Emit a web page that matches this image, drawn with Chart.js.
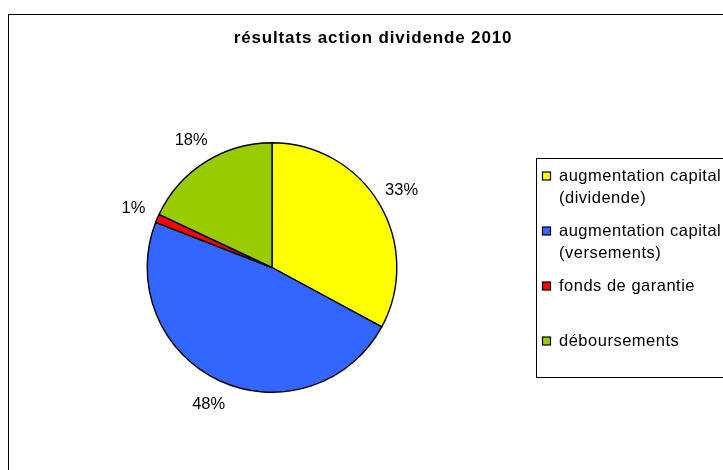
<!DOCTYPE html>
<html>
<head>
<meta charset="utf-8">
<script src="https://cdn.jsdelivr.net/npm/chart.js@4"></script>
<style>
    html, body { margin: 0; padding: 0; background: #fff; }
    #wrap { width: 723px; height: 470px; position: relative; }
</style>
</head>
<body>
<div id="wrap"><canvas id="pie" width="723" height="470"></canvas></div>
<script>
const titleText = 'résultats action dividende 2010';
const categories = [
    ['augmentation capital', '(dividende)'],
    ['augmentation capital', '(versements)'],
    ['fonds de garantie'],
    ['déboursements']
];
const shares = [32.9, 48.0, 1.1, 18.0];
const sliceColors = ['#FFFF00', '#3366FF', '#FF0000', '#99CC00'];

const FONT = '"Liberation Sans", Arial, sans-serif';

// frame, title, legend box
const decorPlugin = {
    id: 'decor',
    beforeDraw(chart) {
        const ctx = chart.ctx;
        ctx.save();
        ctx.fillStyle = '#fff';
        ctx.fillRect(0, 0, chart.width, chart.height);
        ctx.strokeStyle = '#000';
        ctx.lineWidth = 1;
        ctx.strokeRect(8.5, 14.5, 900, 700);

        ctx.fillStyle = '#000';
        ctx.font = 'bold 17px ' + FONT;
        ctx.letterSpacing = '0.85px';
        ctx.textAlign = 'center';
        ctx.textBaseline = 'middle';
        ctx.fillText(titleText, 373, 38);
        ctx.restore();
    },
    afterDraw(chart) {
        const ctx = chart.ctx;
        const labels = chart.data.labels;
        const colors = chart.data.datasets[0].backgroundColor;
        ctx.save();
        ctx.strokeStyle = '#000';
        ctx.lineWidth = 1;
        ctx.strokeRect(536.5, 158.5, 400, 219);

        ctx.font = '16.5px ' + FONT;
        ctx.letterSpacing = '0.5px';
        ctx.textAlign = 'left';
        ctx.textBaseline = 'middle';
        labels.forEach((lines, i) => {
            const y = 176 + i * 55;
            ctx.fillStyle = colors[i];
            ctx.fillRect(542.5, y - 4, 8, 8);
            ctx.lineWidth = 1.2;
            ctx.strokeRect(542.5, y - 4, 8, 8);
            ctx.fillStyle = '#000';
            lines.forEach((ln, j) => ctx.fillText(ln, 559, y + j * 22));
        });
        ctx.restore();
    }
};

// percent labels outside each slice
const pctPlugin = {
    id: 'pct',
    afterDatasetsDraw(chart) {
        const ctx = chart.ctx;
        const meta = chart.getDatasetMeta(0);
        const vals = chart.data.datasets[0].data;
        const total = vals.reduce((a, b) => a + b, 0);
        ctx.save();
        ctx.fillStyle = '#000';
        ctx.font = '16.5px ' + FONT;
        ctx.textAlign = 'center';
        ctx.textBaseline = 'middle';
        meta.data.forEach((arc, i) => {
            const p = arc.getProps(['x', 'y', 'startAngle', 'endAngle', 'outerRadius'], true);
            const mid = (p.startAngle + p.endAngle) / 2;
            const r = p.outerRadius + 26;
            ctx.fillText(Math.round(vals[i] / total * 100) + '%',
                p.x + Math.cos(mid) * r, p.y + Math.sin(mid) * r);
        });
        ctx.restore();
    }
};

new Chart(document.getElementById('pie'), {
    type: 'pie',
    data: {
        labels: categories,
        datasets: [{
            data: shares,
            backgroundColor: sliceColors,
            borderColor: '#000',
            borderWidth: 1.4,
        }]
    },
    options: {
        responsive: false,
        animation: false,
        layout: {
            padding: { left: 146, right: 325, top: 142, bottom: 77 }
        },
        plugins: {
            legend: { display: false },
            title: { display: false },
            tooltip: { enabled: false },
        },
    },
    plugins: [decorPlugin, pctPlugin]
});
</script>
</body>
</html>
